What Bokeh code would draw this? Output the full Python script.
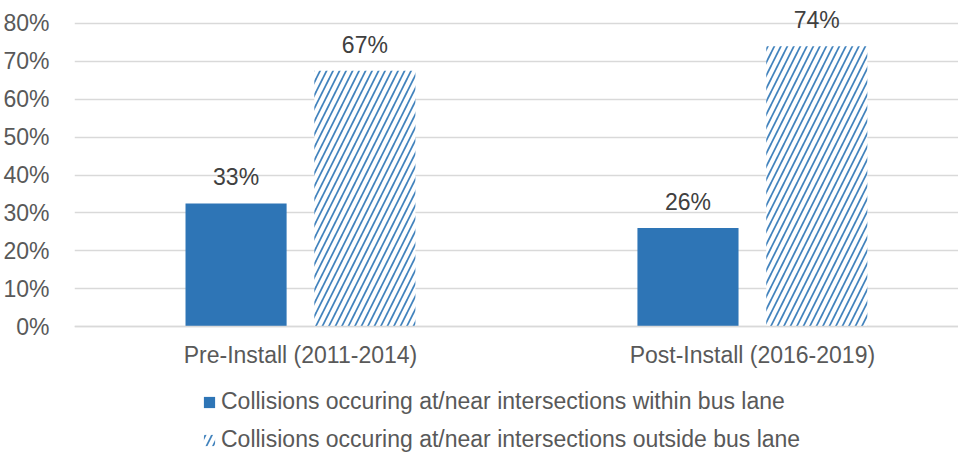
from bokeh.plotting import figure
from bokeh.models import FixedTicker, NumeralTickFormatter, Legend, LegendItem, ColumnDataSource
from bokeh.transform import dodge
from bokeh.embed import file_html
from bokeh.resources import INLINE
from bokeh.core.properties import value

categories = ["Pre-Install (2011-2014)", "Post-Install (2016-2019)"]
within = [0.325, 0.26]
outside = [0.675, 0.74]
within_labels = ["33%", "26%"]
outside_labels = ["67%", "74%"]
series_names = [
    "Collisions occuring at/near intersections within bus lane",
    "Collisions occuring at/near intersections outside bus lane",
]
y_ticks = [0.0, 0.1, 0.2, 0.3, 0.4, 0.5, 0.6, 0.7, 0.8]

FONT = "Liberation Sans"
FS = "23px"
BLUE = "#2E75B6"

xs = list(range(len(categories)))
src = ColumnDataSource(dict(x=xs, within=within, outside=outside,
                            wl=within_labels, ol=outside_labels))

p = figure(width=958, height=453, x_range=(-0.5, 1.4561), y_range=(-0.3353, 0.8396),
           output_backend="svg", toolbar_location=None,
           min_border_left=66, min_border_right=0, min_border_top=8, min_border_bottom=0)
p.outline_line_color = None
p.background_fill_color = "white"
p.border_fill_color = "white"

off = 0.1425
bw = 0.2237
r1 = p.vbar(x=dodge("x", -off), top="within", width=bw, source=src,
            fill_color=BLUE, line_color=None)
r2 = p.vbar(x=dodge("x", off), top="outside", width=bw, source=src,
            fill_color="white", line_color=None,
            hatch_pattern="/", hatch_color=BLUE, hatch_scale=13, hatch_weight=1.7,
            hatch_alpha=0.9)

for col, lab, sign in (("within", "wl", -1), ("outside", "ol", 1)):
    p.text(x=dodge("x", sign * off), y=col, text=lab, source=src,
           text_align="center", text_baseline="alphabetic", y_offset=-26,
           text_font=value(FONT), text_font_size=FS, text_color="#404040")

p.xaxis.fixed_location = 0
p.xaxis.ticker = FixedTicker(ticks=xs)
p.xaxis.major_label_overrides = {i: c for i, c in zip(xs, categories)}
p.xaxis.axis_line_color = "#D9D9D9"
p.xaxis.axis_line_width = 1.3
p.xaxis.major_tick_line_color = None
p.xaxis.minor_tick_line_color = None
p.xaxis.major_label_standoff = 9
p.xaxis.major_label_text_font = FONT
p.xaxis.major_label_text_font_size = FS
p.xaxis.major_label_text_color = "#595959"

p.yaxis.ticker = FixedTicker(ticks=y_ticks)
p.yaxis.formatter = NumeralTickFormatter(format="0%")
p.yaxis.axis_line_color = None
p.yaxis.major_tick_line_color = None
p.yaxis.minor_tick_line_color = None
p.yaxis.major_label_standoff = 19
p.yaxis.major_label_text_font = FONT
p.yaxis.major_label_text_font_size = FS
p.yaxis.major_label_text_color = "#595959"

p.xgrid.visible = False
p.ygrid.ticker = FixedTicker(ticks=y_ticks)
p.ygrid.grid_line_color = "#D9D9D9"
p.ygrid.grid_line_width = 1.3

legend = Legend(items=[LegendItem(label=series_names[0], renderers=[r1]),
                       LegendItem(label=series_names[1], renderers=[r2])],
                location=(128, 0), orientation="vertical",
                border_line_color=None, background_fill_alpha=0,
                padding=0, margin=0, spacing=11, label_height=24,
                glyph_height=14, glyph_width=14, label_standoff=5,
                label_text_font=FONT, label_text_font_size=FS,
                label_text_color="#595959")
p.add_layout(legend)

open("out.html", "w").write(file_html(p, INLINE))
